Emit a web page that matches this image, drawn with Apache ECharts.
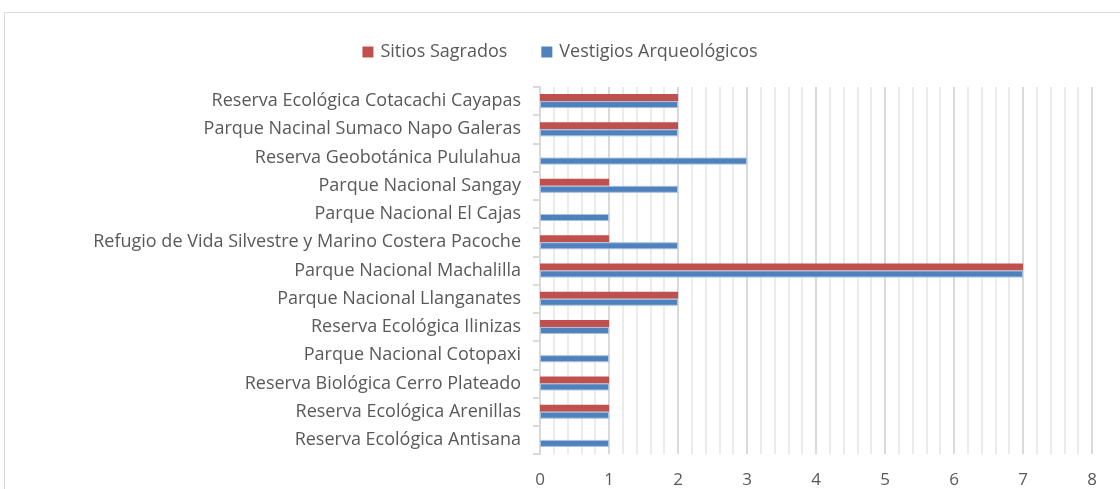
<!DOCTYPE html>
<html>
<head>
<meta charset="utf-8">
<script src="https://cdn.jsdelivr.net/npm/echarts@6/dist/echarts.min.js"></script>
<style>
html, body { margin: 0; padding: 0; background: #fff; }
#mycharts { width: 1120px; height: 489px; }
</style>
</head>
<body>
<div id="mycharts"></div>
<script>
// categories, bottom to top
var areas = [
	'Reserva Ecológica Antisana',
	'Reserva Ecológica Arenillas',
	'Reserva Biológica Cerro Plateado',
	'Parque Nacional Cotopaxi',
	'Reserva Ecológica Ilinizas',
	'Parque Nacional Llanganates',
	'Parque Nacional Machalilla',
	'Refugio de Vida Silvestre y Marino Costera Pacoche',
	'Parque Nacional El Cajas',
	'Parque Nacional Sangay',
	'Reserva Geobotánica Pululahua',
	'Parque Nacinal Sumaco Napo Galeras',
	'Reserva Ecológica Cotacachi Cayapas'
];
var sitiosSagrados = [0, 1, 1, 0, 1, 2, 7, 1, 0, 1, 0, 2, 2];
var vestigios = [1, 1, 1, 1, 1, 2, 7, 2, 1, 2, 3, 2, 2];
var xTicks = [0, 1, 2, 3, 4, 5, 6, 7, 8];

var fontName = '"Open Sans", Lato, sans-serif';
var myChart = echarts.init(document.getElementById('mycharts'));
myChart.setOption({
	animation: false,
	textStyle: { fontFamily: fontName },
	graphic: [{
		type: 'rect',
		shape: { x: 4.5, y: 12.5, width: 1300, height: 700 },
		style: { fill: 'none', stroke: '#d9d9d9', lineWidth: 1 },
		silent: true
	}],
	legend: {
		top: 38,
		left: 'center',
		itemWidth: 11,
		itemHeight: 11,
		itemGap: 34,
		icon: 'rect',
		itemStyle: { borderWidth: 0 },
		textStyle: { fontSize: 18, color: '#595959', fontFamily: fontName, padding: [0, 0, 0, 2] },
		data: ['Sitios Sagrados', 'Vestigios Arqueológicos']
	},
	grid: { left: 540, right: 28, top: 87, bottom: 34 },
	xAxis: {
		type: 'value',
		min: xTicks[0],
		max: xTicks[xTicks.length - 1],
		interval: 1,
		axisLine: { show: false },
		axisTick: { show: false },
		axisLabel: { fontSize: 17, color: '#595959', margin: 18, fontFamily: fontName },
		splitLine: { show: true, lineStyle: { color: '#d9d9d9', width: 2 } },
		minorTick: { show: false, splitNumber: 5 },
		minorSplitLine: { show: true, lineStyle: { color: '#ebebeb', width: 2 } }
	},
	yAxis: {
		type: 'category',
		data: areas,
		axisLine: { show: true, lineStyle: { color: '#d9d9d9', width: 2 } },
		axisTick: { show: true, length: 7, lineStyle: { color: '#d9d9d9', width: 2 } },
		axisLabel: { fontSize: 18, color: '#595959', margin: 19, fontFamily: fontName }
	},
	series: [{
		name: 'Sitios Sagrados',
		type: 'bar',
		data: sitiosSagrados,
		barWidth: 7,
		barGap: '0%',
		itemStyle: { color: '#c0504d' }
	}, {
		name: 'Vestigios Arqueológicos',
		type: 'bar',
		data: vestigios,
		barWidth: 7,
		barGap: '0%',
		itemStyle: { color: '#4f81bd', borderColor: '#a9c1de', borderWidth: 1 }
	}]
});
</script>
</body>
</html>
